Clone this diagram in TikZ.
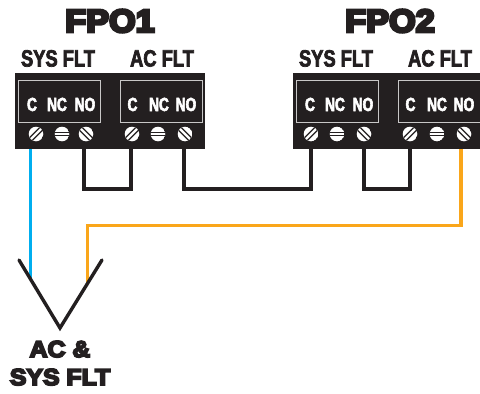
\documentclass[tikz,border=0pt]{standalone}
\usepackage{fontspec}
\setmainfont{Liberation Sans}
\newfontfamily\titlefont[FakeBold=9,FakeStretch=1.07]{Liberation Sans Bold}
\newfontfamily\captfont[FakeBold=8,FakeStretch=1.08]{Liberation Sans Bold}
\newfontfamily\narrowfont[FakeBold=3,FakeStretch=0.78]{Liberation Sans Bold}
\newfontfamily\termfont[FakeBold=3,FakeStretch=0.72]{Liberation Sans Bold}
\definecolor{ink}{HTML}{231F20}
\definecolor{bluewire}{HTML}{00AEEF}
\definecolor{orangewire}{HTML}{FAA61A}
\newcommand{\slottedscrew}[2]{%
  \begin{scope}[shift={(#1,134)}]
    \clip (0,0) circle (7.3);
    \fill[white] (0,0) circle (7.3);
    \begin{scope}[rotate=#2]
      \fill[ink] (-8,-2.6) rectangle (8,-1.3);
      \fill[ink] (-8,1.3) rectangle (8,2.6);
    \end{scope}
  \end{scope}}
\newcommand{\barscrew}[1]{%
  \begin{scope}[shift={(#1,134)}]
    \clip (0,0) circle (7.3);
    \fill[white] (0,0) circle (7.3);
    \fill[ink] (-8,-2.0) rectangle (8,-0.9);
    \fill[ink] (-8,1.0) rectangle (8,2.1);
  \end{scope}}
\tikzset{
  x=1pt,y=-1pt,
  block/.style={fill=ink,draw=none,minimum height=76pt,inner sep=0pt,outer sep=0pt},
  face/.style={draw=white!75!ink,line width=0.9pt,fill=ink,minimum width=81.5pt,minimum height=42pt,inner sep=0pt},
  term/.style={font=\termfont\fontsize{19}{19}\selectfont,text=white,inner sep=0pt,anchor=base},
  head/.style={font=\narrowfont\fontsize{23.5}{23.5}\selectfont,text=ink,inner sep=0pt,anchor=base},
  title/.style={font=\titlefont\fontsize{32}{32}\selectfont,text=ink,inner sep=0pt,anchor=base},
  capt/.style={font=\captfont\fontsize{23}{23}\selectfont,text=ink,inner sep=0pt,anchor=base},
  jumper/.style={draw=ink,line width=3.2pt,miter limit=10},
  bluel/.style={draw=bluewire,line width=3.6pt},
  orangel/.style={draw=orangewire,line width=3.6pt},
  plug/.style={draw=ink,line width=3.4pt,line cap=round,line join=miter},
}
\begin{document}
\begin{tikzpicture}
\useasboundingbox (0,0) rectangle (480,394);
\fill[white] (0,0) rectangle (480,394);
% wires
\coordinate (j1a) at (84,149); \coordinate (j1b) at (131,149);
\coordinate (w1a) at (184,149); \coordinate (w1b) at (311,149);
\coordinate (j2a) at (364,149); \coordinate (j2b) at (410,149);
\coordinate (oa) at (461,149); \coordinate (ob) at (87.5,283);
\coordinate (ba) at (30.5,149); \coordinate (bb) at (30.5,279);
\coordinate (vl) at (19,260); \coordinate (vm) at (60,328); \coordinate (vr) at (102,260);
\draw[jumper] (j1a) -- ++(0,40) -| (j1b);
\draw[jumper] (w1a) -- ++(0,40) -| (w1b);
\draw[jumper] (j2a) -- ++(0,40) -| (j2b);
\draw[bluel] (ba) -- (bb);
\draw[orangel] (oa) |- (87.5,225.5) -- (ob);
\draw[plug] (vl) -- (vm) -- (vr);
% blocks
\node[block,minimum width=190pt,anchor=north west] (b1) at (15,73) {};
\node[block,minimum width=187pt,anchor=north west] (b2) at (293,73) {};
\node[face,anchor=north west] (f1) at (18,79.5) {};
\node[face,anchor=north west] (f2) at (120.3,79.5) {};
\node[face,anchor=north west] (f3) at (296,79.5) {};
\node[face,anchor=north west] (f4) at (398.3,79.5) {};
% terminal labels
\foreach \n/\x/\t in {t1/32/C,t2/57/NC,t3/85/NO,t4/132.5/C,t5/159/NC,t6/186/NO,t7/310/C,t8/335/NC,t9/363/NO,t10/410.5/C,t11/437/NC,t12/464/NO}
  \node[term] (\n) at (\x,111) {\t};
% screws
\foreach \x in {36,132,311,410} {\slottedscrew{\x}{45}}
\foreach \x in {86,185,364,464} {\slottedscrew{\x}{-45}}
\foreach \x in {62,158,337,437} {\barscrew{\x}}
% headings
\node[title] (fpo1) at (110,32) {FPO1};
\node[title] (fpo2) at (390,32) {FPO2};
\node[head] (h1) at (58,66.5) {SYS FLT};
\node[head] (h2) at (162,66.5) {AC FLT};
\node[head] (h3) at (336,66.5) {SYS FLT};
\node[head] (h4) at (440,66.5) {AC FLT};
\node[capt] (c1) at (60,357) {AC \&};
\node[capt] (c2) at (60,385) {SYS FLT};
\end{tikzpicture}
\end{document}
